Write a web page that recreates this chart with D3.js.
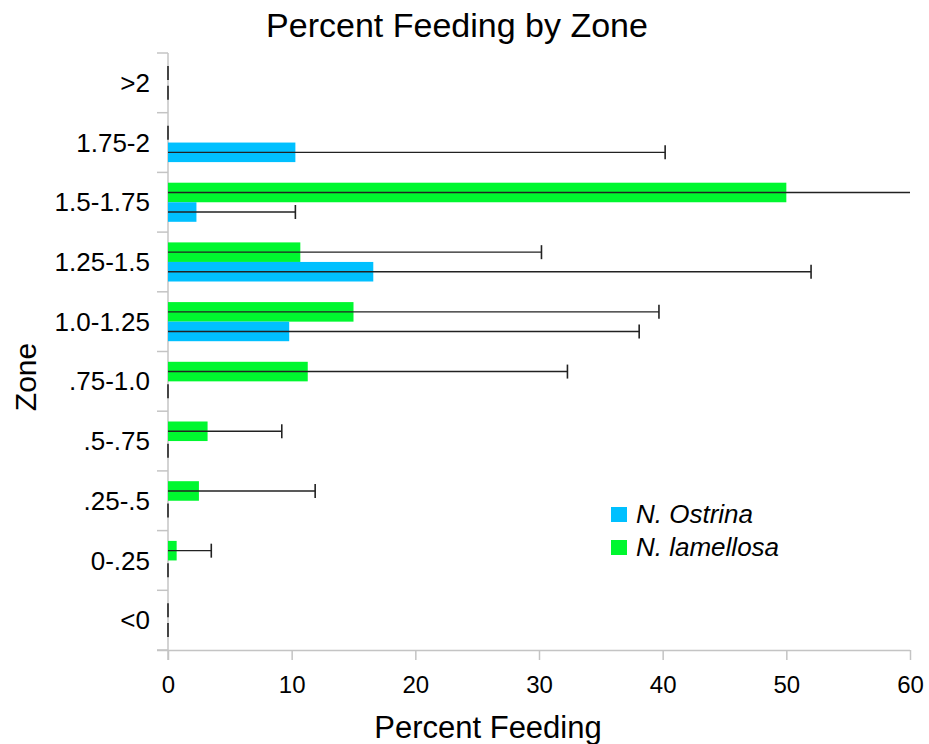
<!DOCTYPE html>
<html>
<head>
<meta charset="utf-8">
<script src="https://cdn.jsdelivr.net/npm/d3@7"></script>
<style>
  html, body { margin: 0; padding: 0; background: #fff; }
  svg text { font-family: "Liberation Sans", Arial, sans-serif; fill: #000; }
</style>
</head>
<body>
<svg id="chart" width="929" height="744"></svg>
<script>
// Zones, top to bottom
const zones = [">2", "1.75-2", "1.5-1.75", "1.25-1.5", "1.0-1.25", ".75-1.0", ".5-.75", ".25-.5", "0-.25", "<0"];

// Percent feeding per zone and the error of each mean
const ostrina      = [0, 10.3, 2.3, 16.6, 9.8, 0, 0, 0, 0, 0];
const ostrinaErr   = [0, 29.9, 8.0, 35.4, 28.3, 0, 0, 0, 0, 0];
const lamellosa    = [0, 0, 50.0, 10.7, 15.0, 11.3, 3.2, 2.5, 0.7, 0];
const lamellosaErr = [0, 0, 14.0, 19.5, 24.7, 21.0, 6.0, 9.4, 2.8, 0];

const xTicks = [0, 10, 20, 30, 40, 50, 60];

const seriesNames = ["N. lamellosa", "N. Ostrina"];
const seriesColors = { "N. lamellosa": "#00f72f", "N. Ostrina": "#00c0ff" };

const rows = [];
zones.forEach((z, i) => {
  rows.push({ zone: z, series: "N. lamellosa", value: lamellosa[i], err: lamellosaErr[i] });
  rows.push({ zone: z, series: "N. Ostrina", value: ostrina[i], err: ostrinaErr[i] });
});

const svg = d3.select("#chart");
const plotLeft = 168, plotRight = 910, plotTop = 53, plotBottom = 650;

const x = d3.scaleLinear().domain([0, 60]).range([plotLeft, plotRight]);
const y = d3.scaleBand().domain(zones).range([plotTop, plotBottom]).paddingInner(0.345).paddingOuter(0.1725);
const ySub = d3.scaleBand().domain(seriesNames).range([0, y.bandwidth()]);

svg.append("defs").append("clipPath").attr("id", "plotClip")
  .append("rect").attr("x", plotLeft - 3).attr("y", plotTop - 5)
  .attr("width", plotRight - plotLeft + 3).attr("height", plotBottom - plotTop + 10);

// Title
svg.append("text").attr("x", 457).attr("y", 37).attr("text-anchor", "middle")
  .style("font-size", "34px").text("Percent Feeding by Zone");

// X axis
const xAxis = svg.append("g").attr("transform", `translate(0,${plotBottom})`)
  .call(d3.axisBottom(x).tickValues(xTicks).tickSize(10).tickPadding(16).tickSizeOuter(0));
xAxis.select(".domain").attr("d", `M${plotLeft - 11},0.5H${plotRight}`);
xAxis.selectAll("path, line").attr("stroke", "#c4c4c4").attr("stroke-width", 1.5);
xAxis.selectAll("text").style("font-size", "24px").attr("fill", "#000");

// Y axis with ticks on category boundaries
const yAxis = svg.append("g").attr("transform", `translate(${plotLeft},0)`);
const boundaries = zones.map(z => y(z) - y.step() * y.paddingOuter()).concat([plotBottom]);
yAxis.append("line").attr("x1", 0).attr("x2", 0).attr("y1", plotTop).attr("y2", plotBottom + 10)
  .attr("stroke", "#c4c4c4").attr("stroke-width", 1.5);
yAxis.selectAll("line.tick").data(boundaries).join("line")
  .attr("class", "tick")
  .attr("x1", -11).attr("x2", 0).attr("y1", d => d).attr("y2", d => d)
  .attr("stroke", "#c4c4c4").attr("stroke-width", 1.5);
yAxis.selectAll("text").data(zones).join("text")
  .attr("x", -18).attr("y", d => y(d) + y.bandwidth() / 2)
  .attr("dy", "0.35em").attr("text-anchor", "end")
  .style("font-size", "26px").text(d => d);

// Bars
const plot = svg.append("g").attr("clip-path", "url(#plotClip)");
plot.selectAll("rect.bar").data(rows).join("rect")
  .attr("class", "bar")
  .attr("x", x(0))
  .attr("y", d => y(d.zone) + ySub(d.series))
  .attr("width", d => x(d.value) - x(0))
  .attr("height", ySub.bandwidth())
  .attr("fill", d => seriesColors[d.series]);

// Error bars: line from the axis to mean + error, with an end cap
const cy = d => y(d.zone) + ySub(d.series) + ySub.bandwidth() / 2;
plot.selectAll("line.err").data(rows).join("line")
  .attr("class", "err")
  .attr("x1", x(0)).attr("x2", d => x(d.value + d.err))
  .attr("y1", cy).attr("y2", cy)
  .attr("stroke", "#222").attr("stroke-width", 1.4);
plot.selectAll("line.cap").data(rows).join("line")
  .attr("class", "cap")
  .attr("x1", d => x(d.value + d.err)).attr("x2", d => x(d.value + d.err))
  .attr("y1", d => cy(d) - 7).attr("y2", d => cy(d) + 7)
  .attr("stroke", "#222").attr("stroke-width", 1.6);

// Axis titles
svg.append("text").attr("x", 488).attr("y", 738).attr("text-anchor", "middle")
  .style("font-size", "31px").text("Percent Feeding");
svg.append("text").attr("transform", "translate(36,377) rotate(-90)").attr("text-anchor", "middle")
  .style("font-size", "30px").text("Zone");

// Legend
const legendItems = ["N. Ostrina", "N. lamellosa"];
const legend = svg.append("g");
legendItems.forEach((name, i) => {
  const g = legend.append("g").attr("transform", `translate(611,${507 + i * 33})`);
  g.append("rect").attr("width", 16).attr("height", 15).attr("fill", seriesColors[name]);
  g.append("text").attr("x", 25).attr("y", 16)
    .style("font-size", "26px").style("font-style", "italic").text(name);
});
</script>
</body>
</html>
